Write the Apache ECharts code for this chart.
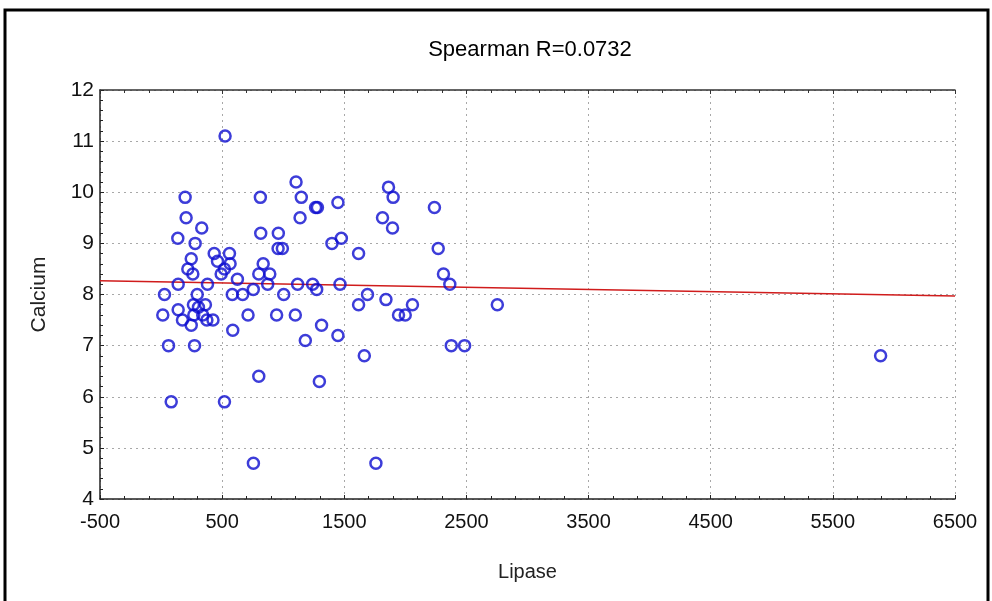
<!DOCTYPE html>
<html>
<head>
<meta charset="utf-8">
<script src="https://cdn.jsdelivr.net/npm/echarts@6/dist/echarts.min.js"></script>
<style>
html,body{margin:0;padding:0;background:#fff;}
#c{width:992px;height:601px;}
</style>
</head>
<body>
<div id="c"></div>
<script>
const lipase = [28,14,61,83,137,140,140,175,197,205,219,247,260,247,279,274,265,268,296,306,333,363,341,375,425,380,435,462,492,519,560,565,524,519,583,587,625,668,712,755,756,800,813,816,800,836,890,873,958,993,960,1004,946,1099,1105,1148,1138,1118,1181,1241,1265,1280,1274,1314,1296,1399,1448,1476,1465,1448,1617,1617,1690,1664,1759,1862,1900,1813,1895,1841,1944,1999,2058,2238,2269,2312,2364,2376,2485,2753,5891];
const calcium = [8.0,7.6,7.0,5.9,9.1,8.2,7.7,7.5,9.9,9.5,8.5,8.7,8.4,7.4,9.0,7.0,7.8,7.6,8.0,7.75,9.3,7.8,7.6,7.5,7.5,8.2,8.8,8.65,8.4,8.5,8.8,8.6,11.1,5.9,8.0,7.3,8.3,8.0,7.6,8.1,4.7,6.4,9.9,9.2,8.4,8.6,8.4,8.2,8.9,8.9,9.2,8.0,7.6,7.6,10.2,9.9,9.5,8.2,7.1,8.2,9.7,9.7,8.1,7.4,6.3,9.0,9.8,9.1,8.2,7.2,8.8,7.8,8.0,6.8,4.7,10.1,9.9,9.5,9.3,7.9,7.6,7.6,7.8,9.7,8.9,8.4,8.2,7.0,7.0,7.8,6.8];
const fitLipase = [-500, 6500];
const fitCalcium = [8.27, 7.97];
const xTicks = [-500, 500, 1500, 2500, 3500, 4500, 5500, 6500];
const yTicks = [4, 5, 6, 7, 8, 9, 10, 11, 12];
const titleText = 'Spearman R=0.0732';

const FONT = "'Liberation Sans', Arial, sans-serif";
const chart = echarts.init(document.getElementById('c'), null, {renderer: 'canvas'});
const points = lipase.map((x, i) => [x, calcium[i]]);
const fit = fitLipase.map((x, i) => [x, fitCalcium[i]]);

const grid = {left: 100, right: 37, top: 90, bottom: 102};
const dotted = {show: true, lineStyle: {color: '#a8a8a8', width: 1, type: [2, 4]}};

chart.setOption({
  animation: false,
  backgroundColor: '#fff',
  title: {
    text: titleText, left: 525, top: 34, textAlign: 'center',
    textStyle: {fontFamily: FONT, fontSize: 22, fontWeight: 'normal', color: '#000'}
  },
  grid: grid,
  xAxis: [{
    type: 'value', min: xTicks[0], max: xTicks[xTicks.length - 1], interval: 1000,
    name: 'Lipase', nameLocation: 'middle', nameGap: 63,
    nameTextStyle: {fontFamily: FONT, fontSize: 20, color: '#222'},
    axisLine: {show: true, onZero: false, lineStyle: {color: '#222', width: 1.5}},
    axisTick: {show: true, inside: true, length: 4, lineStyle: {color: '#222'}},
    minorTick: {show: true, splitNumber: 5, length: 3, lineStyle: {color: '#222'}},
    axisLabel: {fontFamily: FONT, fontSize: 20, color: '#111', margin: 13, formatter: v => String(v)},
    splitLine: dotted
  }, {
    type: 'value', position: 'top', min: xTicks[0], max: xTicks[xTicks.length - 1], interval: 1000,
    axisLine: {show: true, onZero: false, lineStyle: {color: '#333', width: 1.5}},
    axisTick: {show: true, inside: true, length: 4, lineStyle: {color: '#333'}},
    minorTick: {show: true, splitNumber: 5, length: 3, lineStyle: {color: '#333'}},
    axisLabel: {show: false}, splitLine: {show: false}
  }],
  yAxis: {
    type: 'value', min: yTicks[0], max: yTicks[yTicks.length - 1], interval: 1,
    name: 'Calcium', nameLocation: 'middle', nameGap: 50, nameRotate: 90,
    nameTextStyle: {fontFamily: FONT, fontSize: 21, color: '#222'},
    axisLine: {show: true, onZero: false, lineStyle: {color: '#222', width: 1.5}},
    axisTick: {show: true, inside: true, length: 4, lineStyle: {color: '#222'}},
    minorTick: {show: true, splitNumber: 5, length: 3, lineStyle: {color: '#222'}},
    axisLabel: {fontFamily: FONT, fontSize: 21, color: '#111', margin: 6, formatter: v => String(v)},
    splitLine: dotted
  },
  series: [{
    type: 'line', data: fit, xAxisIndex: 0, symbol: 'none',
    lineStyle: {color: '#d01c1c', width: 1.5}, z: 2, silent: true
  }, {
    type: 'scatter', data: points, xAxisIndex: 0, symbol: 'circle', symbolSize: 11,
    itemStyle: {color: 'rgba(0,0,0,0)', borderColor: '#0c0cd0', borderWidth: 2.5}, z: 3
  }],
  graphic: [{
    type: 'rect', shape: {x: 5, y: 10, width: 983, height: 600},
    style: {fill: 'none', stroke: '#000', lineWidth: 3}, silent: true
  }]
});
</script>
</body>
</html>
